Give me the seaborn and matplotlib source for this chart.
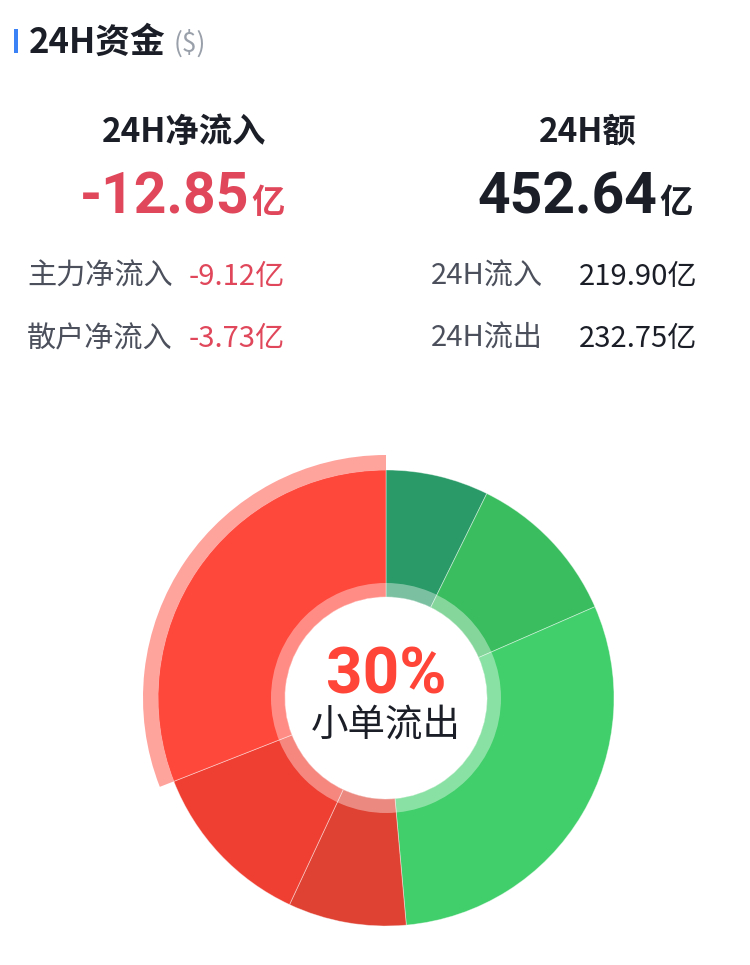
import matplotlib
matplotlib.use("Agg")
import matplotlib.pyplot as plt
from matplotlib.patches import Rectangle
import seaborn as sns

# fund flow split (亿), clockwise from 12 o'clock
flow_names = ["大单流入", "中单流入", "小单流入", "大单流出", "中单流出", "小单流出"]
flow_values = [33.0, 50.5, 136.4, 37.9, 54.72, 140.13]
flow_colors = ["#2a9b68", "#3abd5f", "#41cf6b", "#df4233", "#ef3e32", "#ff483c"]

title = "24H资金"
unit = "($)"
net_label, net_value = "24H净流入", "-12.85"
total_label, total_value = "24H额", "452.64"
left_rows = [("主力净流入", "-9.12亿"), ("散户净流入", "-3.73亿")]
right_rows = [("24H流入", "219.90亿"), ("24H流出", "232.75亿")]
center_pct = "30%"
center_label = "小单流出"

sns.set_theme(style="white")
plt.rcParams["font.family"] = ["Noto Sans CJK SC", "DejaVu Sans"]

W, H = 750, 965
fig = plt.figure(figsize=(W / 100, H / 100), dpi=100)
ax = fig.add_axes([0, 0, 1, 1])
ax.set_xlim(0, W)
ax.set_ylim(0, H)
ax.axis("off")


def T(x, y, s, **kw):
    ax.text(x, H - y, s, **kw)


RED_TXT = "#e0475a"
DARK = "#1b1e27"
GRAY = "#4b505c"
CJK = ["Noto Sans CJK SC", "DejaVu Sans"]
NUM = ["Roboto", "DejaVu Sans"]

# header
ax.add_patch(Rectangle((14, H - 53), 4, 24, color="#3b82f6", lw=0))
T(29, 42, title, fontsize=25, fontweight="bold", color=DARK, va="center", family=CJK)
T(174, 44, unit, fontsize=19, color="#9aa0aa", va="center", family=CJK)

# net inflow block
T(184, 132, net_label, fontsize=24, fontweight="bold", color=DARK, ha="center", va="center", family=CJK)
T(249, 213, net_value, fontsize=41, fontweight="bold", color=RED_TXT, ha="right", va="baseline", family=NUM)
T(251, 213, "亿", fontsize=24, fontweight="bold", color=RED_TXT, ha="left", va="baseline", family=CJK)

# total block
T(588, 132, total_label, fontsize=24, fontweight="bold", color=DARK, ha="center", va="center", family=CJK)
T(657, 213, total_value, fontsize=41, fontweight="bold", color=DARK, ha="right", va="baseline", family=NUM)
T(659, 213, "亿", fontsize=24, fontweight="bold", color=DARK, ha="left", va="baseline", family=CJK)

for i, (lab, val) in enumerate(left_rows):
    y = 277 + i * 62
    T(27, y, lab, fontsize=21, color=GRAY, va="center", family=CJK)
    T(189, y, val, fontsize=21, color=RED_TXT, va="center", family=CJK)
for i, (lab, val) in enumerate(right_rows):
    y = 277 + i * 62
    T(431, y, lab, fontsize=21, color=GRAY, va="center", family=CJK)
    T(579, y, val, fontsize=21, color=DARK, va="center", family=CJK)

# donut
cx, cy = 386, H - 698
R_OUT, R_IN, R_RING, R_HL = 228, 101, 115, 243

ax.pie(flow_values, colors=flow_colors, startangle=90, counterclock=False,
       center=(cx, cy), radius=R_OUT, frame=True,
       wedgeprops=dict(width=R_OUT - R_IN, edgecolor=(1, 1, 1, 0.45), linewidth=0.6))

# inner translucent ring
ax.pie([sum(flow_values)], colors=["white"], startangle=90, counterclock=False,
       center=(cx, cy), radius=R_RING, frame=True,
       wedgeprops=dict(width=R_RING - R_IN, alpha=0.38, linewidth=0))

# outer highlight on the selected slice
hl_colors = ["none"] * (len(flow_values) - 1) + [flow_colors[-1]]
ax.pie(flow_values, colors=hl_colors, startangle=90, counterclock=False,
       center=(cx, cy), radius=R_HL, frame=True,
       wedgeprops=dict(width=R_HL - R_OUT, alpha=0.5, linewidth=0))

ax.set_xlim(0, W)
ax.set_ylim(0, H)
ax.set_aspect("auto")
ax.axis("off")

T(cx, 694, center_pct, fontsize=46, fontweight="bold", color="#ff4438", ha="center", va="baseline", family=NUM)
T(cx, 725, center_label, fontsize=27, color=DARK, ha="center", va="center", family=CJK)

fig.savefig("out.png", dpi=100, facecolor="white")
